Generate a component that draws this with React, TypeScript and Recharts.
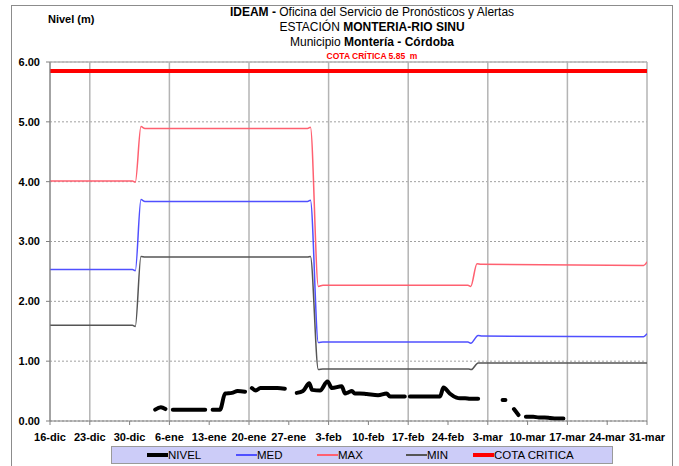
import { CartesianGrid, Line, LineChart, ReferenceLine, XAxis, YAxis } from "recharts";

// days counted from 16-dic (day 0) to 31-mar (day 105)
const tickDays = [0, 7, 14, 21, 28, 35, 42, 49, 56, 63, 70, 77, 84, 91, 98, 105];
const tickLabels = [
  "16-dic", "23-dic", "30-dic", "6-ene", "13-ene", "20-ene", "27-ene", "3-feb",
  "10-feb", "17-feb", "24-feb", "3-mar", "10-mar", "17-mar", "24-mar", "31-mar",
];
const yTicks = [0, 1, 2, 3, 4, 5, 6];

const maxDays = [0, 14.5, 15, 16, 16.7, 45.3, 45.8, 47.2, 48, 73.5, 74, 75.1, 75.8, 104.4, 105];
const maxValues = [4.01, 4.01, 3.99, 4.92, 4.89, 4.89, 4.91, 2.25, 2.27, 2.27, 2.25, 2.63, 2.62, 2.6, 2.66];

const medDays = [0, 14.5, 15, 16, 16.7, 45.3, 45.8, 47.2, 48, 73.5, 74, 75.3, 76, 104.4, 105];
const medValues = [2.53, 2.53, 2.51, 3.7, 3.67, 3.67, 3.69, 1.31, 1.32, 1.32, 1.3, 1.43, 1.42, 1.41, 1.46];

const minDays = [0, 14.5, 15, 16, 16.7, 45.3, 45.8, 47.2, 48, 73.6, 74.1, 75.3, 76, 105];
const minValues = [1.6, 1.6, 1.58, 2.75, 2.74, 2.74, 2.75, 0.86, 0.87, 0.87, 0.86, 0.97, 0.97, 0.97];

const cotaDays = [0, 105];
const cotaValues = [5.85, 5.85];

const nivelDays = [
  18.5, 19.5, 20.3, 21,
  21.6, 23, 25, 27.3, 28,
  28.6, 29.9, 30.8, 32, 33, 34.3, 35,
  35.5, 36.2, 37, 38.5, 40, 41.3, 42.5,
  43.4, 44.5, 45.6, 46.1, 47.5, 48.8, 49.6, 51.3, 51.9, 52.5, 53.1, 53.6, 54.5, 55.7, 57.7, 59.2, 59.8, 61, 62.4, 62.9,
  63.3, 65, 67, 68.6, 69.2, 70.3, 71.5, 72.1, 73, 73.9, 75.3, 77,
  79.6, 80.1, 81,
  81.6, 82.4, 83,
  83.7, 85, 86, 87, 88, 89, 90.3,
];
const nivelValues = [
  0.19, 0.23, 0.2, null,
  0.19, 0.19, 0.19, 0.19, null,
  0.19, 0.19, 0.46, 0.47, 0.5, 0.49, null,
  0.55, 0.51, 0.55, 0.55, 0.55, 0.54, null,
  0.47, 0.5, 0.63, 0.52, 0.51, 0.66, 0.55, 0.58, 0.46, 0.48, 0.5, 0.46, 0.46, 0.45, 0.43, 0.46, 0.41, 0.41, 0.41, null,
  0.41, 0.41, 0.41, 0.41, 0.56, 0.46, 0.39, 0.38, 0.38, 0.37, 0.37, null,
  0.35, 0.35, null,
  0.2, 0.1, null,
  0.07, 0.07, 0.06, 0.06, 0.05, 0.04, 0.04,
];

const toPoints = (days: number[], values: (number | null)[]) =>
  days.map((d, i) => ({ day: d, v: values[i] }));

const nivelData = toPoints(nivelDays, nivelValues);
const medData = toPoints(medDays, medValues);
const maxData = toPoints(maxDays, maxValues);
const minData = toPoints(minDays, minValues);
const cotaData = toPoints(cotaDays, cotaValues);

const FONT = '"Liberation Sans", Arial, sans-serif';

const legendItems = [
  { name: "NIVEL", color: "#000000", width: 4, left: 35 },
  { name: "MED", color: "#5050ff", width: 1.5, left: 124 },
  { name: "MAX", color: "#ff6070", width: 1.5, left: 205 },
  { name: "MIN", color: "#555555", width: 1.5, left: 294 },
  { name: "COTA CRITICA", color: "#ff0000", width: 4, left: 361 },
];

export default function App() {
  return (
    <div style={{ position: "absolute", left: 0, top: 0, width: 679, height: 466, background: "#fff", fontFamily: FONT, overflow: "hidden" }}>
      <div style={{ position: "absolute", left: 11, top: 5, width: 660, height: 470, border: "1px solid #8c8c8c" }} />
      <div style={{ position: "absolute", left: 48, top: 13, fontSize: 11, fontWeight: "bold" }}>Nivel (m)</div>
      <div style={{ position: "absolute", left: 172, top: 5, width: 400, textAlign: "center", lineHeight: "15px", fontSize: 12 }}>
        <div><b>IDEAM - </b>Oficina del Servicio de Pronósticos y Alertas</div>
        <div>ESTACIÓN <b>MONTERIA-RIO SINU</b></div>
        <div>Municipio <b>Montería - Córdoba</b></div>
        <div style={{ color: "#ff0000", fontWeight: "bold", fontSize: 8.5, lineHeight: "12px" }}>COTA CRÍTICA 5.85&nbsp;&nbsp;m</div>
      </div>
      <div style={{ position: "absolute", left: 0, top: 0 }}>
        <LineChart width={679} height={466} margin={{ top: 62, right: 32, bottom: 25, left: 10 }}>
          <CartesianGrid vertical={false} stroke="#a0a0a0" strokeDasharray="2 2" />
          <CartesianGrid horizontal={false} stroke="#b4b4b4" strokeWidth={1.5} />
          <ReferenceLine y={6} stroke="#b4b4b4" strokeWidth={1.5} />
          <XAxis
            type="number"
            dataKey="day"
            domain={[0, 105]}
            ticks={tickDays}
            tickFormatter={(v: number) => tickLabels[tickDays.indexOf(v)]}
            height={20}
            tickSize={4}
            tickMargin={8}
            stroke="#808080"
            tick={{ fill: "#000", fontSize: 11, fontWeight: "bold", fontFamily: FONT }}
            allowDataOverflow
          />
          <YAxis
            type="number"
            domain={[0, 6]}
            ticks={yTicks}
            tickFormatter={(v: number) => v.toFixed(2)}
            width={40}
            tickSize={4}
            tickMargin={6}
            stroke="#808080"
            tick={{ fill: "#000", fontSize: 11, fontWeight: "bold", fontFamily: FONT }}
          />
          <Line data={cotaData} dataKey="v" stroke="#ff0000" strokeWidth={4} dot={false} isAnimationActive={false} />
          <Line data={maxData} dataKey="v" type="monotone" stroke="#ff6070" strokeWidth={1.5} dot={false} isAnimationActive={false} />
          <Line data={medData} dataKey="v" type="monotone" stroke="#5050ff" strokeWidth={1.5} dot={false} isAnimationActive={false} />
          <Line data={minData} dataKey="v" type="monotone" stroke="#555555" strokeWidth={1.5} dot={false} isAnimationActive={false} />
          <Line data={nivelData} dataKey="v" type="monotone" stroke="#000000" strokeWidth={4} strokeLinejoin="round" strokeLinecap="round" dot={false} connectNulls={false} isAnimationActive={false} />
        </LineChart>
      </div>
      <div style={{ position: "absolute", left: 111, top: 446, width: 500, height: 16, background: "#ccccf8", border: "1px solid #9a9a9a" }}>
        {legendItems.map((it) => (
          <div key={it.name} style={{ position: "absolute", left: it.left, top: 0, height: 16, display: "flex", alignItems: "center", fontSize: 11.5 }}>
            <span style={{ display: "inline-block", width: 21, height: it.width, background: it.color }} />
            <span>{it.name}</span>
          </div>
        ))}
      </div>
    </div>
  );
}
